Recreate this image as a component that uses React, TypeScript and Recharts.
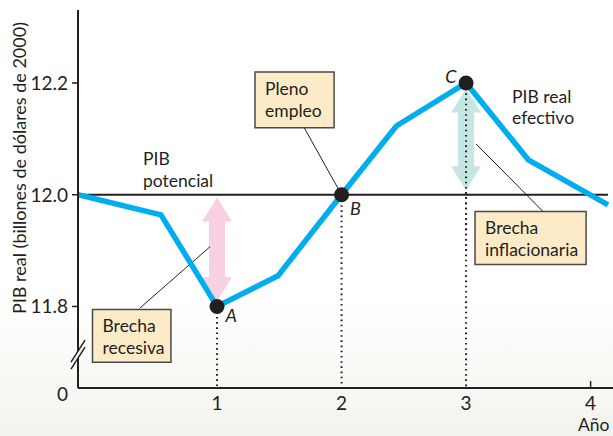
import {
  ComposedChart,
  Line,
  XAxis,
  YAxis,
  ReferenceLine,
  ReferenceDot,
  ReferenceArea,
} from "recharts";

const FONT = "Lato, 'Noto Sans', sans-serif";
const INK = "#231f20";

// years and real GDP (trillions of 2000 dollars)
const years = [-0.1165, 0.55, 1, 1.49, 2, 2.44, 3, 3.5, 4.14];
const actualGdp = [12.0, 11.964, 11.8, 11.855, 12.0, 12.123, 12.2, 12.0625, 11.982];
const potentialGdp = [12.0, 12.0, 12.0, 12.0, 12.0, 12.0, 12.0, 12.0, 12.0];

const xTicks = [1, 2, 3, 4];
const yTicks = [11.6541, 11.8, 12.0, 12.2];
const yDomain = [11.6541, 12.3306];
const xDomain = [-0.1165, 4.18];

const markedYears = [1, 2, 3];
const markedGdp = [11.8, 12.0, 12.2];
const markedLabels = ["A", "B", "C"];

const data = years.map((year, i) => ({
  year,
  actual: actualGdp[i],
  potential: potentialGdp[i],
}));

const PLOT_LEFT = 78;

function YTick(props: any) {
  const { payload } = props;
  const y = payload.coordinate;
  const isZero = payload.value < 11.7;
  return (
    <g>
      {!isZero && (
        <line x1={PLOT_LEFT - 6} x2={PLOT_LEFT} y1={y} y2={y} stroke={INK} strokeWidth={1.5} />
      )}
      <text
        x={PLOT_LEFT - 10}
        y={isZero ? y + 6 : y}
        dy="0.36em"
        textAnchor="end"
        fontSize={19}
        fill={INK}
        fontFamily={FONT}
      >
        {isZero ? "0" : Number(payload.value).toFixed(1)}
      </text>
    </g>
  );
}

function XTick(props: any) {
  const { x, payload } = props;
  return (
    <text x={x} y={410} textAnchor="middle" fontSize={19} fill={INK} fontFamily={FONT}>
      {payload.value}
    </text>
  );
}

function DoubleArrow(color: string) {
  return (props: any) => {
    const { x1, y1, y2 } = props;
    const top = Math.min(y1, y2);
    const bot = Math.max(y1, y2);
    const hw = 15;
    const sw = 8;
    const hh = 24;
    const pts = [
      [x1, top],
      [x1 + hw, top + hh],
      [x1 + sw, top + hh],
      [x1 + sw, bot - hh],
      [x1 + hw, bot - hh],
      [x1, bot],
      [x1 - hw, bot - hh],
      [x1 - sw, bot - hh],
      [x1 - sw, top + hh],
      [x1 - hw, top + hh],
    ]
      .map((p) => p.join(","))
      .join(" ");
    return <polygon points={pts} fill={color} />;
  };
}

function AxisBreak(props: any) {
  const { cx, cy } = props;
  return (
    <g>
      <polygon
        points={`${cx - 7},${cy + 13} ${cx + 7},${cy - 9} ${cx + 7},${cy - 3} ${cx - 7},${cy + 19}`}
        fill="#fbfbf8"
      />
      <line x1={cx - 7} y1={cy + 12} x2={cx + 7} y2={cy - 10} stroke={INK} strokeWidth={1.5} />
      <line x1={cx - 7} y1={cy + 19} x2={cx + 7} y2={cy - 3} stroke={INK} strokeWidth={1.5} />
    </g>
  );
}

function BoxText(lines: string[]) {
  return (props: any) => {
    const { x, y } = props.viewBox;
    return (
      <text x={x + 10} y={y + 23} fontSize={17.5} fill={INK} fontFamily={FONT}>
        {lines.map((l, i) => (
          <tspan key={i} x={x + 10} dy={i === 0 ? 0 : 22}>
            {l}
          </tspan>
        ))}
      </text>
    );
  };
}

const boxStyle = { fill: "#fdebc8", fillOpacity: 1, stroke: "#4a4a4a", strokeWidth: 1.5 };

export default function App() {
  return (
    <div
      style={{
        position: "absolute",
        left: 0,
        top: 0,
        width: 613,
        height: 436,
        background: "linear-gradient(to bottom, #ffffff 0%, #ffffff 68%, #f3f3ee 100%)",
      }}
    >
      <ComposedChart
        width={613}
        height={436}
        data={data}
        margin={{ top: 10, right: 0, left: 0, bottom: 0 }}
      >
        <XAxis
          dataKey="year"
          type="number"
          domain={xDomain}
          ticks={xTicks}
          allowDataOverflow
          height={48}
          axisLine={{ stroke: INK, strokeWidth: 2 }}
          tickLine={false}
          tick={<XTick />}
          interval={0}
        />
        <YAxis
          type="number"
          domain={yDomain}
          ticks={yTicks}
          allowDataOverflow
          width={PLOT_LEFT}
          axisLine={{ stroke: INK, strokeWidth: 2 }}
          tickLine={false}
          tick={<YTick />}
          interval={0}
        />

        {/* dotted drops from A, B, C */}
        {markedYears.map((yr, i) => (
          <ReferenceLine
            key={"drop" + i}
            segment={[
              { x: yr, y: markedGdp[i] },
              { x: yr, y: yDomain[0] },
            ]}
            stroke={INK}
            strokeWidth={2}
            strokeDasharray="1.6 3.6"
          />
        ))}

        {/* gaps */}
        <ReferenceLine
          segment={[
            { x: 1, y: 11.995 },
            { x: 1, y: 11.81 },
          ]}
          shape={DoubleArrow("#f8d0e3")}
        />
        <ReferenceLine
          segment={[
            { x: 3, y: 12.19 },
            { x: 3, y: 12.008 },
          ]}
          shape={DoubleArrow("#c5e6e3")}
        />
        <ReferenceLine
          segment={[
            { x: 3, y: 12.2 },
            { x: 3, y: 11.9 },
          ]}
          stroke={INK}
          strokeWidth={2}
          strokeDasharray="1.6 3.6"
        />

        {/* leader lines */}
        <ReferenceLine
          segment={[
            { x: 1.7, y: 12.12 },
            { x: 2, y: 12.0 },
          ]}
          stroke={INK}
          strokeWidth={1}
        />
        <ReferenceLine
          segment={[
            { x: 0.38, y: 11.797 },
            { x: 0.944, y: 11.907 },
          ]}
          stroke={INK}
          strokeWidth={1}
        />
        <ReferenceLine
          segment={[
            { x: 3.618, y: 11.97 },
            { x: 3.08, y: 12.091 },
          ]}
          stroke={INK}
          strokeWidth={1}
        />

        <Line
          dataKey="potential"
          stroke={INK}
          strokeWidth={2}
          dot={false}
          isAnimationActive={false}
        />
        <Line
          dataKey="actual"
          stroke="#00aeef"
          strokeWidth={5.5}
          strokeLinejoin="miter"
          dot={false}
          isAnimationActive={false}
        />

        {markedYears.map((yr, i) => (
          <ReferenceDot
            key={"pt" + i}
            x={yr}
            y={markedGdp[i]}
            r={7.5}
            fill={INK}
            stroke="none"
            label={{
              value: markedLabels[i],
              position: i === 2 ? "left" : "right",
              dx: i === 2 ? 3 : -4,
              dy: i === 0 ? 9 : i === 1 ? 14 : -6,
              fontSize: 18,
              fontStyle: "italic",
              fill: INK,
              fontFamily: FONT,
            }}
          />
        ))}

        {/* callout boxes */}
        <ReferenceArea
          x1={1.305}
          x2={1.94}
          y1={12.12}
          y2={12.2196}
          {...boxStyle}
          label={BoxText(["Pleno", "empleo"])}
        />
        <ReferenceArea
          x1={0}
          x2={0.63}
          y1={11.7}
          y2={11.7946}
          {...boxStyle}
          label={BoxText(["Brecha", "recesiva"])}
        />
        <ReferenceArea
          x1={3.072}
          x2={3.964}
          y1={11.875}
          y2={11.97}
          {...boxStyle}
          label={BoxText(["Brecha", "inflacionaria"])}
        />

        <ReferenceDot
          x={xDomain[0]}
          y={11.722}
          r={0}
          ifOverflow="visible"
          shape={AxisBreak}
        />
        <ReferenceDot
          x={4}
          y={yDomain[0]}
          r={0}
          shape={(p: any) => (
            <line x1={p.cx} x2={p.cx} y1={p.cy} y2={p.cy - 7} stroke={INK} strokeWidth={1.5} />
          )}
        />
      </ComposedChart>

      <svg
        width={613}
        height={436}
        style={{ position: "absolute", left: 0, top: 0, pointerEvents: "none" }}
        fontFamily={FONT}
        fill={INK}
      >
        <text x={26} y={168} fontSize={18} textAnchor="middle" transform="rotate(-90 26 168)">
          PIB real (billones de dólares de 2000)
        </text>
        <text x={143} y={165} fontSize={17.5}>PIB</text>
        <text x={143} y={187} fontSize={17.5}>potencial</text>
        <text x={512} y={103} fontSize={17.5}>PIB real</text>
        <text x={512} y={124} fontSize={17.5}>efectivo</text>
        <text x={578} y={431} fontSize={17.5}>Año</text>
      </svg>
    </div>
  );
}
